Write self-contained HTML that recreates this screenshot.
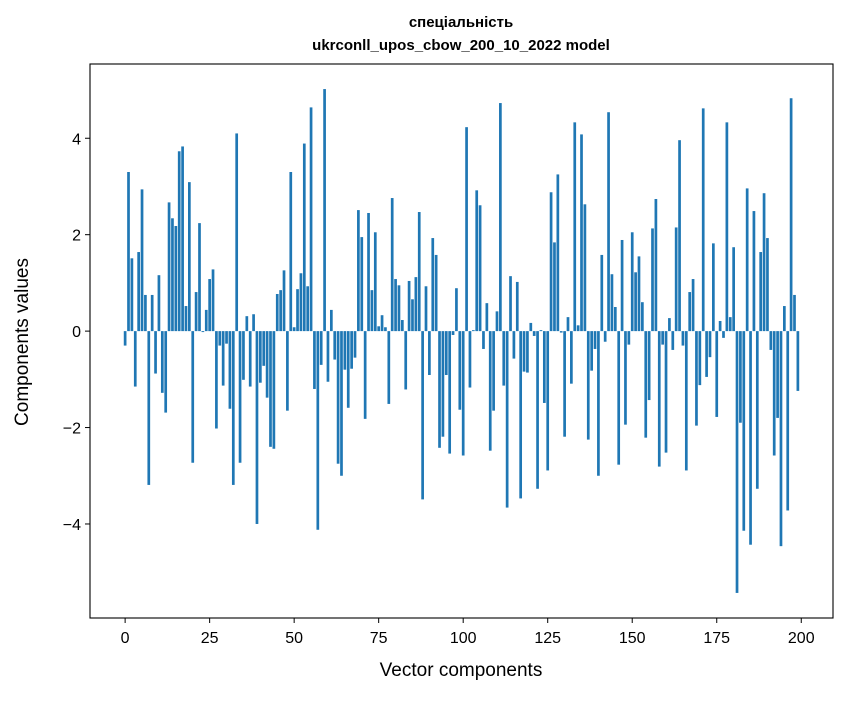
<!DOCTYPE html>
<html><head><meta charset="utf-8"><style>
body{margin:0;background:#fff;font-family:"Liberation Sans","DejaVu Sans",sans-serif}
</style></head><body>
<svg id="chart" width="847" height="696" xmlns="http://www.w3.org/2000/svg" font-family="Liberation Sans, DejaVu Sans, sans-serif">
<rect width="847" height="696" fill="#fff"/>
<text x="461" y="27" text-anchor="middle" font-size="15" font-weight="bold">спеціальність</text>
<text x="461" y="50" text-anchor="middle" font-size="15" font-weight="bold">ukrconll_upos_cbow_200_10_2022 model</text>
<g id="bars"></g>
<g id="xt"></g>
<g id="yt"></g>
<rect x="90" y="64" width="743" height="554" fill="none" stroke="#000" stroke-width="1.1"/>
<text x="461" y="676" text-anchor="middle" font-size="19">Vector components</text>
<text transform="translate(28,342) rotate(-90)" text-anchor="middle" font-size="19">Components values</text>
</svg>
<script>
const values = [-0.30,3.30,1.51,-1.15,1.64,2.94,0.75,-3.19,0.75,-0.88,1.16,-1.28,-1.69,2.67,2.34,2.18,3.73,3.83,0.52,3.09,
-2.73,0.81,2.24,-0.02,0.44,1.08,1.28,-2.02,-0.30,-1.13,-0.26,-1.61,-3.19,4.10,-2.73,-1.01,0.31,-1.15,0.35,-4.0,
-1.07,-0.72,-1.38,-2.40,-2.44,0.77,0.85,1.26,-1.65,3.30,0.08,0.87,1.20,3.89,0.93,4.64,-1.20,-4.12,-0.70,5.02,
-1.05,0.44,-0.59,-2.75,-3.00,-0.80,-1.59,-0.78,-0.55,2.51,1.95,-1.82,2.45,0.85,2.05,0.10,0.33,0.08,-1.51,2.76,
1.08,0.95,0.23,-1.21,1.04,0.66,1.12,2.47,-3.49,0.93,-0.91,1.93,1.58,-2.42,-2.19,-0.91,-2.54,-0.08,0.89,-1.63,
-2.58,4.23,-1.17,0.02,2.92,2.61,-0.37,0.58,-2.48,-1.65,0.41,4.73,-1.13,-3.66,1.14,-0.57,1.02,-3.47,-0.84,-0.86,
0.17,-0.10,-3.27,0.02,-1.49,-2.89,2.88,1.84,3.25,-0.03,-2.19,0.29,-1.09,4.33,0.12,4.08,2.63,-2.25,-0.82,-0.37,
-3.00,1.58,-0.22,4.54,1.18,0.50,-2.77,1.89,-1.94,-0.28,2.05,1.22,1.55,0.60,-2.21,-1.43,2.13,2.74,-2.81,-0.28,
-2.52,0.27,-0.39,2.15,3.96,-0.30,-2.89,0.81,1.08,-1.96,-1.12,4.62,-0.95,-0.54,1.82,-1.78,0.21,-0.14,4.33,0.29,
1.74,-5.43,-1.90,-4.14,2.96,-4.43,2.49,-3.27,1.64,2.86,1.93,-0.39,-2.58,-1.80,-4.46,0.52,-3.72,4.83,0.75,-1.24];
const xTicks = [0,25,50,75,100,125,150,175,200];
const yTicks = [-4,-2,0,2,4];
const NS="http://www.w3.org/2000/svg";
const X0=90,X1=833,Y0=64,Y1=618;
const xmin=-10.39,xmax=209.39,ymin=-5.95,ymax=5.54;
function sx(v){return X0+(v-xmin)/(xmax-xmin)*(X1-X0);}
function sy(v){return Y1-(v-ymin)/(ymax-ymin)*(Y1-Y0);}
function mk(t,a){const e=document.createElementNS(NS,t);for(const k in a)e.setAttribute(k,a[k]);return e;}
const bars=document.getElementById('bars');
values.forEach((v,i)=>{
 const x=sx(i-0.4),w=sx(i+0.4)-x,y=sy(Math.max(v,0)),h=Math.abs(sy(v)-sy(0));
 const r=mk('rect',{x:x,y:y,width:w,height:h,fill:'#1f77b4'});
 
 
 bars.appendChild(r);
});
const xt=document.getElementById('xt');
xTicks.forEach(t=>{
 const x=sx(t);
 const l=mk('line',{x1:x,x2:x,y1:Y1,y2:Y1+5,stroke:'#000','stroke-width':1});
 
 
 xt.appendChild(l);
 const tx=mk('text',{x:x,y:Y1+25,'text-anchor':'middle','font-size':16});
 
 
 tx.textContent=t;xt.appendChild(tx);
});
const yt=document.getElementById('yt');
yTicks.forEach(t=>{
 const y=sy(t);
 const l=mk('line',{x1:X0-5,x2:X0,y1:y,y2:y,stroke:'#000','stroke-width':1});
 
 
 yt.appendChild(l);
 const tx=mk('text',{x:X0-9,y:y+6,'text-anchor':'end','font-size':16});
 
 
 tx.textContent=(t<0?'\u2212':'')+Math.abs(t);yt.appendChild(tx);
});
</script>
</body></html>
